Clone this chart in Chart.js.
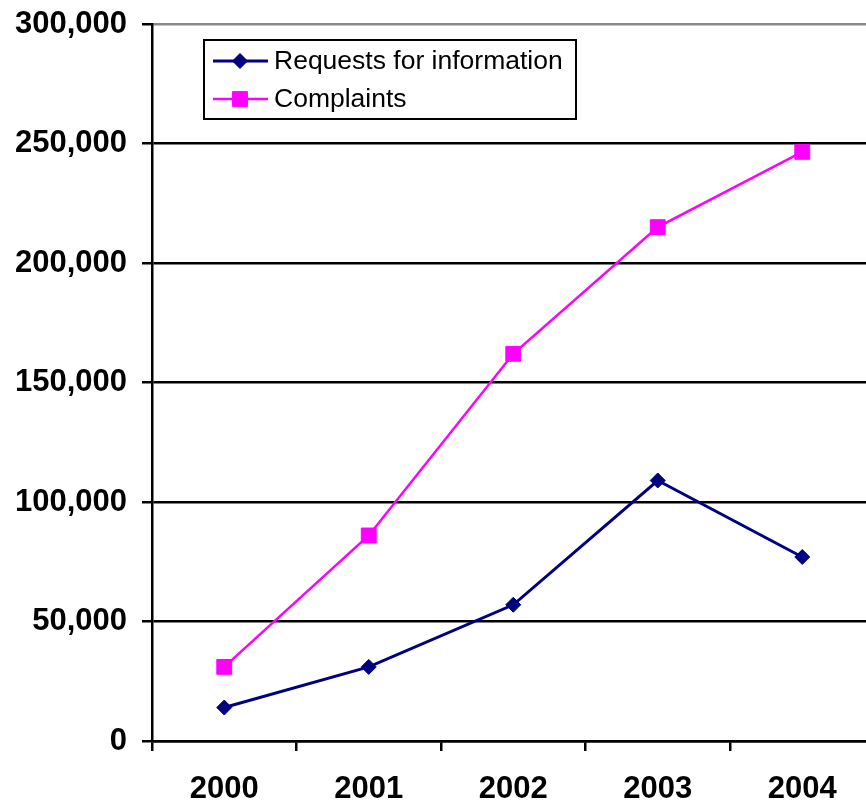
<!DOCTYPE html>
<html>
<head>
<meta charset="utf-8">
<title>Requests for information and complaints, 2000-2004</title>
<script src="https://cdn.jsdelivr.net/npm/chart.js@4.4.1/dist/chart.umd.min.js"></script>
<style>
  html, body { margin:0; padding:0; background:#fff; overflow:hidden; }
  #line-chart { display:block; }
</style>
</head>
<body>
<canvas id="line-chart" width="886" height="801"></canvas>
<script>
var years = ['2000', '2001', '2002', '2003', '2004'];
var requests = [14000, 31000, 57000, 109000, 77000];
var complaints = [31000, 86000, 162000, 215000, 246500];
var yTicks = [0, 50000, 100000, 150000, 200000, 250000, 300000];

var FONT = '"Liberation Sans", Arial, Helvetica, sans-serif';

// legend drawn inside the plot, in a framed box
var boxLegend = {
  id: 'boxLegend',
  afterDraw: function(chart) {
    var c = chart.ctx, a = chart.chartArea;
    var x = a.left + 52, y = a.top + 16, w = 372, h = 79;
    c.save();
    c.lineWidth = 2;
    c.strokeStyle = '#000';
    c.strokeRect(x, y, w, h);
    c.font = '26.5px ' + FONT;
    c.textBaseline = 'middle';
    chart.data.datasets.forEach(function(ds, i) {
      var ry = y + 21 + i * 38;
      c.strokeStyle = ds.borderColor;
      c.lineWidth = ds.borderWidth;
      c.beginPath();
      c.moveTo(x + 9, ry);
      c.lineTo(x + 64, ry);
      c.stroke();
      c.fillStyle = ds.pointBackgroundColor;
      c.strokeStyle = ds.pointBorderColor;
      c.lineWidth = 1;
      Chart.helpers.drawPoint(c, {pointStyle: ds.pointStyle, radius: ds.pointRadius, borderWidth: 1, rotation: 0}, x + 36, ry);
      c.fillStyle = '#000';
      c.fillText(ds.label, x + 70, ry + 1);
    });
    c.restore();
  }
};

var ctx = document.getElementById('line-chart').getContext('2d');
new Chart(ctx, {
  type: 'line',
  data: {
    labels: years,
    datasets: [
      {
        label: 'Requests for information',
        data: requests,
        borderColor: '#000080',
        backgroundColor: '#000080',
        borderWidth: 3,
        pointStyle: 'rectRot',
        pointRadius: 7.5,
        pointBackgroundColor: '#000080',
        pointBorderColor: '#000080',
        pointBorderWidth: 1,
        tension: 0
      },
      {
        label: 'Complaints',
        data: complaints,
        borderColor: '#ff00ff',
        backgroundColor: '#ff00ff',
        borderWidth: 2.5,
        pointStyle: 'rect',
        pointRadius: 10.5,
        pointBackgroundColor: '#ff00ff',
        pointBorderColor: '#ff00ff',
        pointBorderWidth: 1,
        tension: 0
      }
    ]
  },
  options: {
    responsive: false,
    animation: false,
    layout: { padding: { top: 24, right: 0, bottom: 0, left: 0 } },
    plugins: {
      legend: { display: false },
      tooltip: { enabled: false }
    },
    scales: {
      x: {
        offset: true,
        grid: {
          offset: true,
          drawOnChartArea: false,
          drawTicks: true,
          tickLength: 10,
          color: '#000',
          lineWidth: 2.5
        },
        border: { display: true, color: '#000', width: 2.5 },
        ticks: {
          color: '#000',
          padding: 20,
          maxRotation: 0,
          font: { family: FONT, size: 31, weight: 'bold' }
        },
        afterFit: function(scale) {
          scale.height = 60;
          scale.paddingLeft = 0;
          scale.paddingRight = 0;
        }
      },
      y: {
        min: 0,
        max: 300000,
        afterBuildTicks: function(scale) {
          scale.ticks = yTicks.map(function(v) { return {value: v}; });
        },
        grid: {
          color: function(c) { return c.tick && c.tick.value === 300000 ? '#888' : '#000'; },
          tickColor: '#000',
          lineWidth: 2.5,
          tickLength: 10
        },
        border: { display: true, color: '#000', width: 2.5 },
        ticks: {
          color: '#000',
          padding: 15,
          font: { family: FONT, size: 31, weight: 'bold' },
          callback: function(v) { return Number(v).toLocaleString('en-US'); }
        },
        afterFit: function(scale) {
          scale.width = 152;
          scale.paddingTop = 0;
          scale.paddingBottom = 0;
        }
      }
    }
  },
  plugins: [boxLegend]
});
</script>
</body>
</html>
